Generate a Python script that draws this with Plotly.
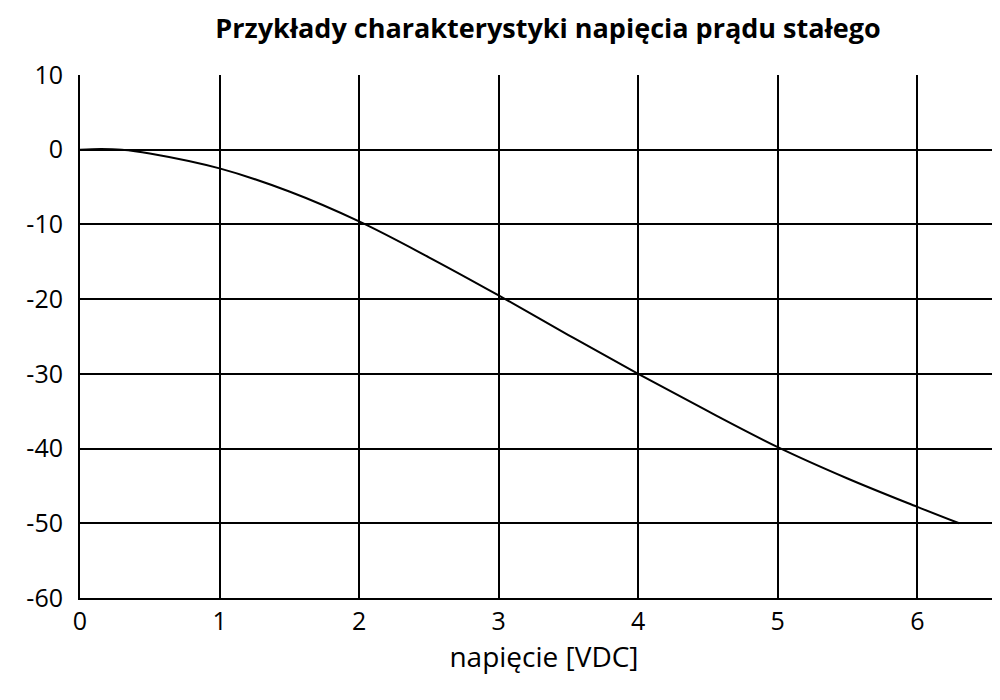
import plotly.graph_objects as go

x_vals = [0, 0.15, 0.3, 0.5, 1.0, 1.5, 2.0, 2.5, 3.0, 3.5, 4.0, 4.5, 5.0, 5.5, 6.0, 6.3]
y_vals = [0, 0.1, 0, -0.5, -2.5, -5.6, -9.6, -14.4, -19.5, -24.8, -30.0, -35.0, -39.8, -44.0, -47.8, -50.0]
x_ticks = [0, 1, 2, 3, 4, 5, 6]
y_ticks = [10, 0, -10, -20, -30, -40, -50, -60]
y_labels = ["10", "0", "-10", "-20", "-30", "-40", "-50", "-60"]

fig = go.Figure(go.Scatter(x=x_vals, y=y_vals, mode="lines", line=dict(color="black", width=2, shape="spline"), showlegend=False))
fig.update_layout(
    width=1000, height=700, plot_bgcolor="white", paper_bgcolor="white",
    margin=dict(l=72, r=0, t=67, b=110, autoexpand=False),
    font=dict(family="Open Sans", color="black", size=25),
    title=dict(text="<b>Przykłady charakterystyki napięcia prądu stałego</b>", x=0.54, xanchor="center", y=0.97, yanchor="middle", font=dict(size=27)),
)
fig.update_xaxes(range=[0, 6.65], tickvals=x_ticks, showgrid=True, gridcolor="black", gridwidth=2, automargin=False,
                 showline=True, linecolor="black", linewidth=2, zeroline=False, ticks="",
                 title=dict(text="napięcie [VDC]", font=dict(size=28), standoff=8))
fig.update_yaxes(range=[-60, 10], tickvals=y_ticks, ticktext=y_labels, showgrid=True, gridcolor="black", gridwidth=2,
                 automargin=False, showline=True, linecolor="black", linewidth=2, zeroline=False, ticks="", ticklabelstandoff=10)
fig.write_html("out.html")
